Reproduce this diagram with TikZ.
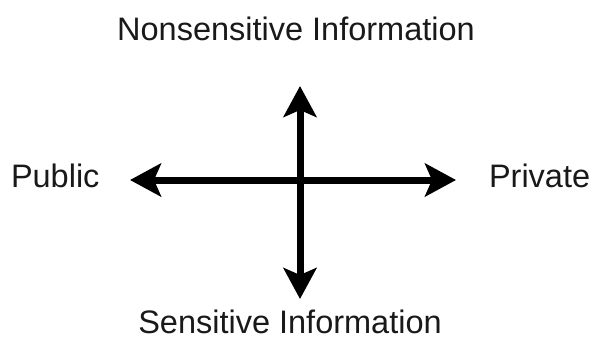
\documentclass[tikz,border=0pt]{standalone}
\usepackage{fontspec}
\setmainfont{Liberation Sans}
\usetikzlibrary{arrows.meta}
\begin{document}
\begin{tikzpicture}[x=1pt,y=-1pt,
  lbl/.style={inner sep=0pt,outer sep=0pt,text=black!90,font=\fontsize{32.5}{39}\selectfont},
  axis/.style={line width=7pt,{Stealth[length=31pt,width=33pt,inset=7pt]}-{Stealth[length=31pt,width=33pt,inset=7pt]}}]
\useasboundingbox (0,0) rectangle (596,341);
\coordinate (l) at (130,180);
\coordinate (r) at (456,180);
\coordinate (t) at (300,86);
\coordinate (b) at (300,299);
\draw[axis] (l) -- (r);
\draw[axis] (t) -- (b);
\node[lbl,anchor=base] (top) at (296,40) {Nonsensitive Information};
\node[lbl,anchor=base] (bot) at (290,333) {Sensitive Information};
\node[lbl,anchor=base west] (pub) at (11,187) {Public};
\node[lbl,anchor=base west] (pri) at (489,187) {Private};
\end{tikzpicture}
\end{document}
